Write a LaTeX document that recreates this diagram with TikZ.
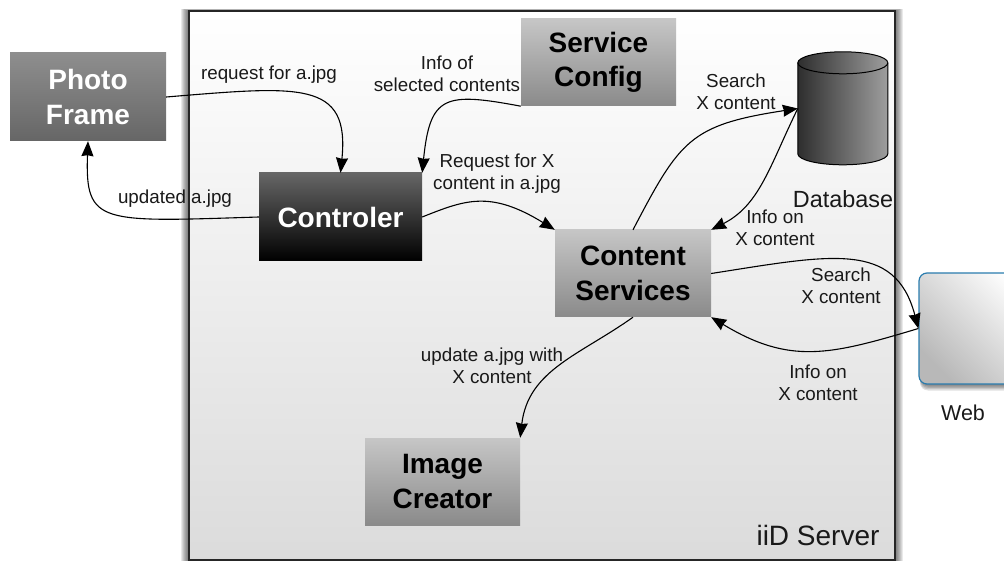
\documentclass[tikz,border=0pt]{standalone}
\usepackage{fontspec}
\setmainfont{Liberation Sans}
\usetikzlibrary{arrows.meta}
\definecolor{grey1}{HTML}{C6C6C6}
\definecolor{grey2}{HTML}{8A8A8A}
\definecolor{pf1}{HTML}{8E8E8E}
\definecolor{pf2}{HTML}{666666}
\definecolor{ct1}{HTML}{666666}
\definecolor{webline}{HTML}{2A7CAE}
\tikzset{
  x=1pt,y=-1pt,
  titlebox/.style={inner sep=0pt,align=center,font=\fontsize{28}{34.5}\selectfont\bfseries,minimum width=156pt,minimum height=88pt},
  greybox/.style={titlebox,text=black,top color=grey1,bottom color=grey2},
  lab/.style={inner sep=0pt,align=center,text=black!90,font=\fontsize{18.8}{22}\selectfont},
  conn/.style={draw=black,line width=1.1pt,-{Stealth[length=15pt,width=12pt,inset=1pt]}},
}
\begin{document}
\begin{tikzpicture}
\useasboundingbox (0,0) rectangle (1004,561);
\clip (0,0) rectangle (1004,561);
% server shadow
\foreach \d in {1,2,...,8}{
  \fill[black,opacity=.085] (189-\d,11-\d*0.3) rectangle (895+\d,561+5);
}
\node[inner sep=0pt,minimum width=706pt,minimum height=549pt,draw=black!85,line width=1.2pt,top color=white,bottom color=black!14] (server) at (542,285.5) {};
\node[lab,font=\fontsize{28}{32}\selectfont] (serverlab) at (818,535) {iiD Server};

\node[titlebox,text=white,top color=pf1,bottom color=pf2] (pf) at (88,97) {Photo\\Frame};
\node[titlebox,minimum width=163pt,text=white,top color=ct1,bottom color=black] (ctrl) at (340.5,217) {Controler};
\node[greybox,minimum width=155pt,minimum height=87pt] (sc) at (598.5,62.5) {Service\\Config};
\node[greybox,minimum height=87pt] (cs) at (633,273.5) {Content\\Services};
\node[greybox,minimum width=155pt,minimum height=87pt] (ic) at (442.5,481.5) {Image\\Creator};

% database
\node[inner sep=0pt,minimum width=90pt,minimum height=113pt] (db) at (843,108.5) {};
\path[left color=black!82,right color=black!38,draw=black,line width=1pt]
  (db.north west) ++(0,11) -- ++(0,91) arc[start angle=180,end angle=360,x radius=45,y radius=-11] -- ++(0,-91)
  arc[start angle=0,end angle=180,x radius=45,y radius=-11] -- cycle;
\draw[black,line width=1pt] (db.north west) ++(0,11) arc[start angle=180,end angle=360,x radius=45,y radius=-11];
\node[lab,font=\fontsize{23.4}{28}\selectfont] (dblab) at (843,199) {Database};

% web
\foreach \d in {1,...,5}{
  \fill[black,opacity=.12,rounded corners=8pt] (921-\d*0.2,276) rectangle (1030,384+\d*1.3);
}
\node[inner sep=0pt,minimum width=120pt,minimum height=111pt,rounded corners=8pt,draw=webline,line width=1.2pt,left color=black!28,right color=white,shading angle=135] (web) at (979,328.5) {};
\node[lab,font=\fontsize{21.5}{25}\selectfont] (weblab) at (963,413) {Web};

% connectors
\draw[conn] (pf.east) .. controls (300,86) and (350,80) .. (ctrl.north);
\draw[conn] (ctrl.west) .. controls (100,222) and (85,225) .. (pf.south);
\draw[conn] (sc.south west) .. controls (445,92) and (430,95) .. (ctrl.north east);
\draw[conn] (ctrl.east) .. controls (465,200) and (490,190) .. (cs.north west);
\draw[conn] (cs.north) .. controls (680,140) and (690,125) .. (db.west);
\draw[conn] (db.west) .. controls (770,165) and (760,205) .. (cs.north east);
\draw[conn] (cs.east) .. controls (830,255) and (895,240) .. (web.west);
\draw[conn] (web.west) .. controls (830,355) and (790,365) .. (cs.south east);
\draw[conn] (cs.south) .. controls (580,355) and (528,370) .. (ic.north east);

% labels
\node[lab] (l1) at (269,75) {request for a.jpg};
\node[lab] (l2) at (447,74) {Info of\\selected contents};
\node[lab] (l3) at (497,174) {Request for X\\content in a.jpg};
\node[lab] (l4) at (175,199) {updated a.jpg};
\node[lab] (l5) at (736,92) {Search\\X content};
\node[lab] (l6) at (775,228) {Info on\\X content};
\node[lab] (l7) at (841,286) {Search\\X content};
\node[lab] (l8) at (818,383) {Info on\\X content};
\node[lab] (l9) at (492,366) {update a.jpg with\\X content};
\end{tikzpicture}
\end{document}
